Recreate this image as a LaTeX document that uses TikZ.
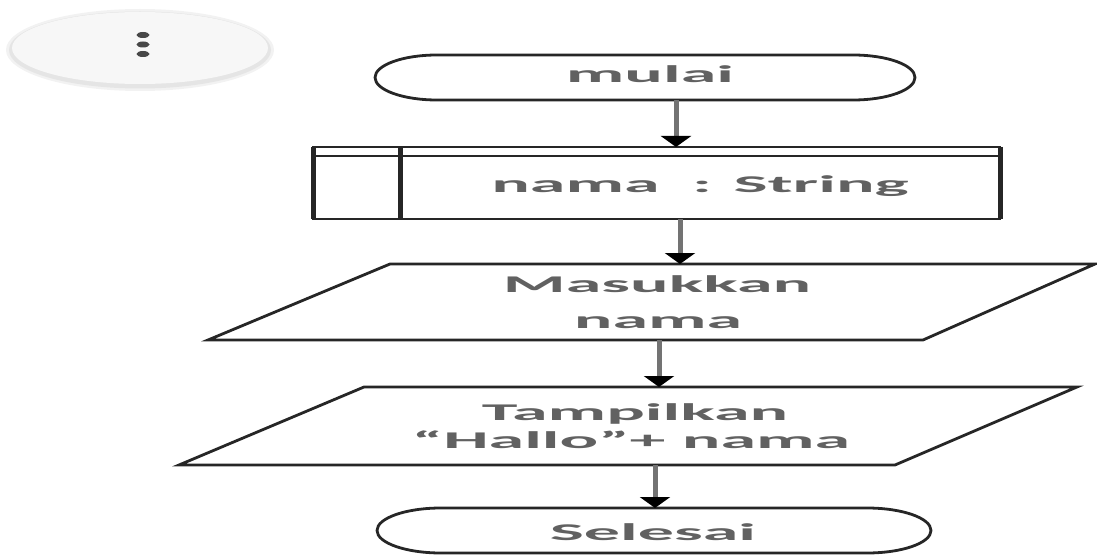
\documentclass[tikz,border=0pt]{standalone}
\usepackage{fontspec}
\setmainfont{Carlito}
\usetikzlibrary{arrows.meta}
\begin{document}
\begin{tikzpicture}[x=1pt,y=-1pt,
  outline/.style={draw=black!85,line width=2.8pt,line join=miter},
  thickv/.style={draw=black!85,line width=5pt},
  box/.style={draw=none,inner sep=0pt,outer sep=0pt},
  lbl/.style={text=black!62,font=\fontsize{24}{28}\selectfont\bfseries,xscale=3.0,inner sep=0pt,anchor=base},
  arr/.style={draw=black!55,line width=5pt,-{Triangle[length=11pt,width=30pt,color=black]}},
]
\useasboundingbox (0,0) rectangle (1097,556);

% menu button
\fill[black!5] (140,50) ellipse [x radius=134pt, y radius=41pt];
\fill[black!10] (140,50) ellipse [x radius=131pt, y radius=38.5pt];
\fill[black!3] (140,48) ellipse [x radius=128pt, y radius=36pt];
\node[box,minimum width=256pt,minimum height=72pt] (menu) at (140,48) {};
\foreach \yy in {35,44.5,54}
  \fill[black!72] (143,\yy) ellipse [x radius=6.5pt, y radius=3pt];

% nodes (shapes)
\node[box,minimum width=540pt,minimum height=45pt] (start) at (645,77.5) {};
\node[box,minimum width=687pt,minimum height=72pt] (decl) at (656.5,183) {};
\node[box,minimum width=887pt,minimum height=76pt] (in) at (651.5,302) {};
\node[box,minimum width=899pt,minimum height=78pt] (out) at (628.5,426) {};
\node[box,minimum width=554pt,minimum height=45pt] (stop) at (654,530.5) {};

% outlines
\draw[outline] ([xshift=62pt]start.north west) -- ([xshift=-62pt]start.north east)
  arc[start angle=90,end angle=-90,x radius=62pt,y radius=22.5pt]
  -- ([xshift=62pt]start.south west)
  arc[start angle=270,end angle=90,x radius=62pt,y radius=22.5pt] -- cycle;
\draw[outline] ([xshift=64pt]stop.north west) -- ([xshift=-64pt]stop.north east)
  arc[start angle=90,end angle=-90,x radius=64pt,y radius=22.5pt]
  -- ([xshift=64pt]stop.south west)
  arc[start angle=270,end angle=90,x radius=64pt,y radius=22.5pt] -- cycle;

\draw[outline] (decl.north west) rectangle (decl.south east);
\draw[outline] ([yshift=-9pt]decl.north west) -- ([yshift=-9pt]decl.north east);
\draw[thickv] (decl.north west) -- (decl.south west);
\draw[thickv] (decl.north east) -- (decl.south east);
\draw[thickv] ([xshift=87pt]decl.north west) -- ([xshift=87pt]decl.south west);

\draw[outline] ([xshift=182pt]in.north west) -- (in.north east)
  -- ([xshift=-172pt]in.south east) -- (in.south west) -- cycle;
\draw[outline] ([xshift=185pt]out.north west) -- ([xshift=-1pt]out.north east)
  -- ([xshift=-183pt]out.south east) -- (out.south west) -- cycle;

% labels
\node[lbl] (tstart) at (650,83) {mulai};
\node[lbl] (tdecl) at (700,193) {nama\ \ : String};
\node[lbl] (tin1) at (657,292) {Masukkan};
\node[lbl] (tin2) at (658,328) {nama};
\node[lbl] (tout1) at (635,420) {Tampilkan};
\node[lbl] (tout2) at (631,448) {“Hallo”+ nama};
\node[lbl] (tstop) at (653,540) {Selesai};

% connectors
\draw[arr] ([xshift=31pt]start.south) -- ([xshift=31pt]start.south |- decl.north);
\draw[arr] ([xshift=23.5pt]decl.south) -- ([xshift=23.5pt]decl.south |- in.north);
\draw[arr] ([xshift=7.5pt]in.south) -- ([xshift=7.5pt]in.south |- out.north);
\draw[arr] ([xshift=26.5pt]out.south) -- ([xshift=26.5pt]out.south |- stop.north);
\end{tikzpicture}
\end{document}
